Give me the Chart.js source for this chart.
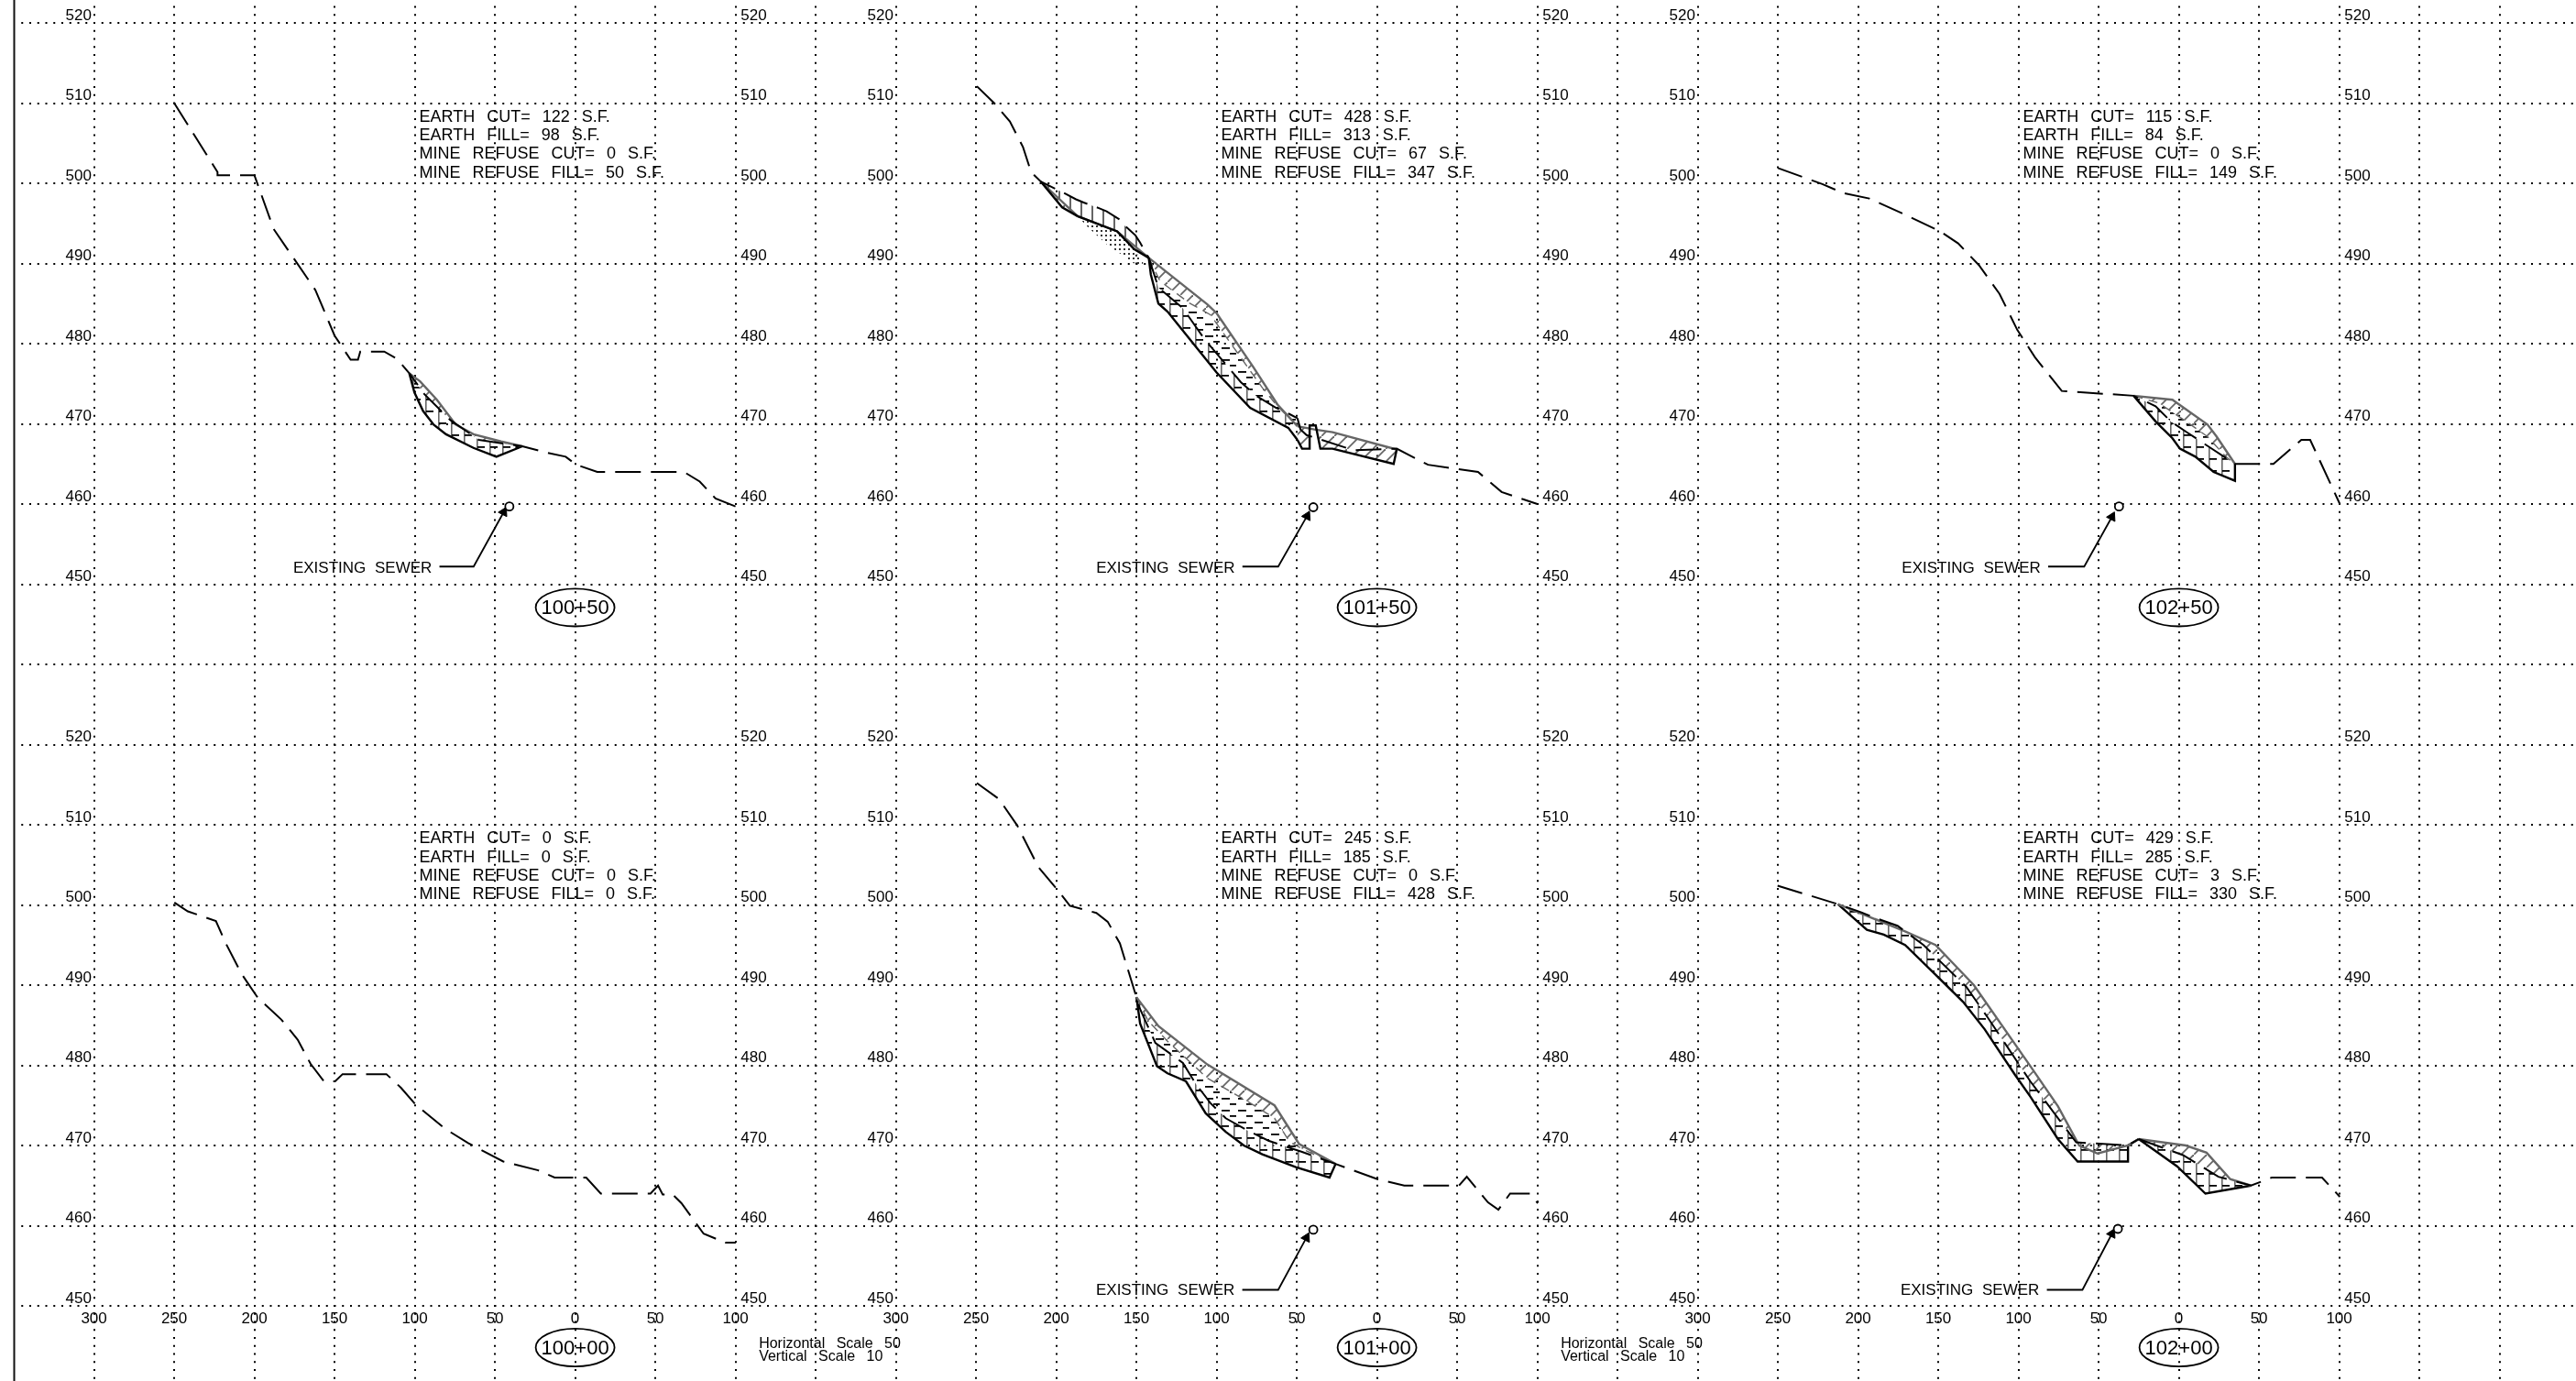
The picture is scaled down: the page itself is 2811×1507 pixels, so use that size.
<!DOCTYPE html>
<html>
<head>
<meta charset="utf-8">
<title>Cross sections</title>
<style>
  html, body { margin: 0; padding: 0; background: #fff; }
  canvas { display: block; }
</style>
<script src="https://cdn.jsdelivr.net/npm/chart.js@4"></script>
</head>
<body>
<canvas id="sections" width="2811" height="1507"></canvas>
<script>
// labels and quantities, order: top row left to right, then bottom row
const stations = ["100+50", "101+50", "102+50", "100+00", "101+00", "102+00"];
const earthCut = [122, 428, 115, 0, 245, 429];
const earthFill = [98, 313, 84, 0, 185, 285];
const refuseCut = [0, 67, 0, 0, 0, 3];
const refuseFill = [50, 347, 149, 0, 428, 330];

// axis ticks
const offsetTicks = [-300, -250, -200, -150, -100, -50, 0, 50, 100];
const elevationTicks = [520, 510, 500, 490, 480, 470, 460, 450];

// 100+50
const ground10050 = [[-250, 510], [-223, 501.4], [-223, 501], [-200, 501], [-188, 494.3], [-162, 486.7], [-158.6, 485.1], [-150, 481], [-140, 478], [-135.4, 478], [-134, 479], [-119, 479], [-111, 478.1], [-103.4, 476.3], [-94, 473.7], [-78, 470.5], [-60, 468], [-32.9, 467.2], [-19.6, 466.5], [-5.9, 465.9], [0.7, 464.9], [13.8, 464], [67.9, 464], [77.7, 462.8], [87.5, 460.7], [100, 459.7]];
const finish10050 = [[-103.4, 476.3], [-96.7, 475.3], [-86.2, 473], [-74.4, 469.9], [-63.4, 468.7], [-46.2, 467.8], [-32.9, 467.2]];
const subgrade10050 = [[-103.4, 476.3], [-100.2, 473.9], [-94.8, 471.6], [-88.2, 469.9], [-80.5, 468.7], [-63.4, 467], [-49.1, 465.9], [-32.9, 467.2]];
const core10050 = [[-103.4, 476.3], [-94, 473.7], [-78, 470.5], [-60, 468], [-32.9, 467.2]];

// 101+50
const groundUpper10150 = [[-249.5, 512.1], [-238.7, 510], [-228.9, 507.7], [-220.7, 504.5], [-215.7, 501.4], [-209.6, 500.2], [-196.3, 498.9], [-187.7, 498], [-182.9, 497.6], [-173.4, 496.9], [-168.6, 496.5], [-160.6, 495.5], [-157.2, 494.7], [-150.6, 493.5], [-147.7, 492.6], [-142.3, 490.7]];
const groundLower10150 = [[-142.3, 490.7], [-136.3, 487], [-121, 484.4], [-107.7, 480.6], [-96.3, 477.9], [-84.9, 475.2], [-75.3, 473.5], [-62.9, 472], [-54.4, 471.2], [-49.6, 470.7]];
const groundRight10150 = [[-49.6, 470.7], [-47.7, 469.3], [-43.9, 468.6], [-14.3, 466.7], [12.3, 466.9], [31.8, 464.9], [63, 464], [77.7, 461.5], [100, 460]];
const finishUpper10150 = [[-209.6, 500.2], [-186.7, 495.9], [-162, 494], [-142.3, 490.7]];
const finishLower10150 = [[-142.3, 490.7], [-105.8, 484.9], [-100, 483.8], [-77.2, 477.1], [-62, 472.4], [-49.6, 469.7]];
const finishEnd10150 = [[-49.6, 469.7], [-39.1, 469.3], [-27.7, 468.95], [12.3, 466.8]];
const inner10150 = [[-142.3, 490.7], [-135.3, 487.8], [-117.2, 485.1], [-103.9, 483.6], [-100, 482.5], [-71.5, 474.5], [-62, 472.2], [-49.6, 469.7]];
const subgradeUpper10150 = [[-209.6, 500.2], [-196.3, 497], [-186.7, 495.9]];
const subgradeMid10150 = [[-186.7, 495.9], [-162, 494], [-151.5, 491.8], [-142.3, 490.7]];
const subgradeLower10150 = [[-142.3, 490.7], [-141, 488.6], [-136.3, 485], [-130.6, 484], [-115.3, 480.2], [-100, 476.4], [-79.1, 472], [-55.3, 469.5], [-49.6, 468]];
const subgradeEnd10150 = [[-49.6, 468], [-46.7, 466.9], [-42, 466.9], [-42, 469.8], [-38.2, 469.8], [-35.3, 466.9], [-27.7, 466.9], [10.4, 465], [12.3, 466.8]];
const refuse10150 = [[-186.7, 495.9], [-162, 494], [-151.5, 491.8], [-145.8, 490.1], [-147.7, 489.5], [-168.6, 492.4], [-180, 494.5]];

// 102+50
const ground10250 = [[-250, 501.9], [-222.3, 499.9], [-209.6, 498.8], [-193, 498.1], [-170.8, 496.1], [-148.7, 494], [-137.6, 492.5], [-124.7, 489.8], [-111.8, 486.2], [-100.7, 481.7], [-89.7, 478.3], [-73, 474.1], [-28.2, 473.5], [-14.5, 472.2], [-5, 470.3], [4.6, 469], [19.8, 467], [35, 465], [59, 465], [76.4, 468], [81.9, 468], [100.4, 460]];
const finish10250 = [[-28.2, 473.5], [-4, 473], [17.9, 469.9], [23.6, 468.4], [35, 465]];
const subgrade10250 = [[-28.2, 473.5], [-14.5, 470.3], [-4, 468.2], [0.7, 466.9], [10.3, 465.9], [21.7, 464], [35, 462.9], [35, 465]];
const core10250 = [[-28.2, 473.5], [-14.5, 472.2], [-5, 470.3], [4.6, 469], [19.8, 467], [35, 465]];
const inner10250 = [[-28.2, 473.5], [-12.6, 472.6], [4.6, 470.3], [17.9, 468.4], [29.3, 465.9], [35, 465]];

// 100+00, no cut or fill
const ground10000 = [[-249.9, 500.3], [-241.5, 499.2], [-224, 498], [-217.8, 495.2], [-208, 491.4], [-197.8, 488.4], [-183.2, 485.7], [-173, 483.2], [-165, 480.2], [-156.6, 478], [-149.7, 478], [-145, 478.9], [-117.7, 478.9], [-108.6, 477.2], [-99.5, 475.1], [-81.2, 472.1], [-66.7, 470.3], [-44.8, 468], [-23, 466.9], [-12.8, 466], [6.9, 466], [16, 464], [47, 464], [51.7, 465], [54.6, 463.9], [60.8, 463.9], [66.3, 462.8], [80.1, 459], [93.6, 457.9], [100.2, 457.9]];

// 101+00
const ground10100 = [[-249.5, 515.2], [-235.7, 513.2], [-224.3, 509.9], [-211.1, 504.7], [-199.7, 502], [-191.5, 499.9], [-175, 499], [-167.9, 497.9], [-160.3, 495.2], [-150, 488.5], [-147.7, 487], [-138.2, 482.8], [-121, 480.3], [-113.4, 477.8], [-103.9, 475.3], [-94.3, 473.4], [-81, 471.9], [-67.7, 470.6], [-46.7, 469.2], [-25.8, 467.7], [0.3, 465.8], [17, 465], [51.1, 465], [56, 466.1], [69.2, 462.9], [75.7, 462], [83, 464], [95.4, 464], [100.3, 462.8]];
const coreGround10100 = [[-150, 488.5], [-147.7, 487], [-138.2, 482.8], [-121, 480.3], [-113.4, 477.8], [-103.9, 475.3], [-94.3, 473.4], [-81, 471.9], [-67.7, 470.6], [-46.7, 469.2], [-25.8, 467.7]];
const finish10100 = [[-150, 488.5], [-136.3, 484.9], [-105.8, 480.1], [-63.9, 475], [-48.6, 470.2], [-25.8, 467.7]];
const subgrade10100 = [[-150, 488.5], [-147.7, 485.2], [-137.2, 479.9], [-130.6, 479], [-119.1, 478], [-106.8, 474], [-94.3, 471.7], [-83, 470], [-71.5, 468.9], [-50.6, 467.3], [-29.6, 466], [-25.8, 467.7]];
const inner10100 = [[-150, 488.5], [-142.9, 485.6], [-130.6, 483], [-105.8, 478.4], [-79.1, 475.3], [-63.9, 473.4], [-54.3, 470.4], [-44.9, 469.4], [-25.8, 467.7]];

// 102+00
const groundLeft10200 = [[-250.2, 502.4], [-212.6, 500.1], [-198.3, 499.1], [-189.7, 498.4], [-175.4, 497.4], [-159.2, 495], [-132.6, 489.8], [-119.3, 486], [-92.6, 478], [-64, 470.4], [-31.7, 470], [-25, 470.8]];
const groundRight10200 = [[-25, 470.8], [2.6, 468.8], [24.7, 466.1], [45, 465], [57.9, 466], [89.3, 466], [100.4, 463.6]];
const finishLeft10200 = [[-212.6, 500.1], [-170.7, 496.7], [-151.7, 495], [-127.8, 490], [-92.6, 479.9], [-75.4, 474.9], [-62.1, 470], [-50.7, 469], [-31.7, 470], [-25, 470.8]];
const finishRight10200 = [[-25, 470.8], [4.4, 470], [17.3, 469.1], [32.1, 465.8], [45, 465]];
const subgradeLeft10200 = [[-212.6, 500.1], [-194.5, 496.9], [-184, 496.3], [-170.7, 495], [-151.7, 491.3], [-134.5, 487.9], [-121.1, 484.5], [-102.1, 478.8], [-92.6, 476.1], [-75.4, 470.8], [-63.1, 468], [-31.7, 468], [-31.7, 470], [-25, 470.8]];
const subgradeRight10200 = [[-25, 470.8], [-1.1, 467.4], [16.6, 464], [45, 465]];

// sewer pipe and the note pointing at it: [bend start, bend, arrow tip]
const sewer10050 = [[-84.6, 452.2], [-63.3, 452.2], [-44.5, 459]];
const sewer10150 = [[-83.9, 452.2], [-61.6, 452.2], [-43.6, 458.5]];
const sewer10250 = [[-81.5, 452.2], [-59, 452.2], [-41.7, 458.4]];
const sewer10100 = [[-84, 452], [-61.6, 452], [-44, 458.5]];
const sewer10200 = [[-82.3, 452], [-60.1, 452], [-41.7, 459]];
const pipe10050 = [[-41, 459.7]];
const pipe10150 = [[-39.7, 459.6]];
const pipe10250 = [[-37.3, 459.7]];
const pipe10100 = [[-39.7, 459.5]];
const pipe10200 = [[-38, 459.6]];

// sheet layout, one grid cell is 50 ft across and 10 ft high
const W = 2811, H = 1507, LEFT = 21;
const PX_X = 1.75, PX_Y = 8.75;
const ZERO_A = 627.6, COLUMN_SHIFT = 500, ROW_SHIFT = 90;
const FONT = '"Liberation Sans", Arial, sans-serif';
const xMin = (LEFT - ZERO_A) / PX_X, xMax = (W - ZERO_A) / PX_X;
const yMax = 520 + 25 / PX_Y, yMin = yMax - H / PX_Y;

const ctx = document.getElementById("sections").getContext("2d");

function tile(w, h, draw) {
  const c = document.createElement("canvas");
  c.width = w;
  c.height = h;
  draw(c.getContext("2d"));
  return ctx.createPattern(c, "repeat");
}

const GRAY = "#666";
const rungs = tile(14, 14, (g) => {
  g.strokeStyle = GRAY;
  g.lineWidth = 1.8;
  g.beginPath();
  g.moveTo(-2, 16);
  g.lineTo(16, -2);
  g.stroke();
});
const dashes = tile(18, 13, (g) => {
  g.fillStyle = "#000";
  g.fillRect(1, 2, 9, 1.8);
  g.fillRect(10, 8, 7, 1.8);
});
const tees = tile(14, 13, (g) => {
  g.fillStyle = GRAY;
  g.fillRect(2, 0, 1.6, 13);
  g.fillStyle = "#000";
  g.fillRect(3, 6, 8, 1.8);
});
const bars = tile(12, 4, (g) => {
  g.fillStyle = GRAY;
  g.fillRect(3, 0, 2, 4);
});
const stipple = tile(5, 5, (g) => {
  g.fillStyle = "#333";
  g.fillRect(1, 1, 2, 2);
});

const band = (a, b) => a.concat(b.slice().reverse());

// first dataset in the list ends up on top
const topLines = [], fills = [];

function addLine(data, xId, yId, color, width, dash) {
  topLines.push({
    data, xAxisID: xId, yAxisID: yId, showLine: true, pointRadius: 0,
    borderColor: color, borderWidth: width, borderDash: dash || [], fill: false,
  });
}
function addFill(data, xId, yId, pattern) {
  fills.push({
    data, xAxisID: xId, yAxisID: yId, showLine: true, pointRadius: 0,
    borderWidth: 0, borderColor: "transparent", backgroundColor: pattern, fill: "shape",
  });
}
const addGround = (data, x, y) => addLine(data, x, y, "#000", 2, [28, 11]);
const addSubgrade = (data, x, y) => addLine(data, x, y, "#000", 2.4);
const addFinish = (data, x, y) => addLine(data, x, y, GRAY, 2.4);
const addInner = (data, x, y) => addLine(data, x, y, GRAY, 1.4, [10, 7]);

function addSewer(note, pipe, x, y) {
  addLine(note, x, y, "#000", 1.8);
  topLines.push({
    data: pipe, xAxisID: x, yAxisID: y, pointRadius: 4.5, pointStyle: "circle",
    pointBorderColor: "#000", pointBorderWidth: 1.8, pointBackgroundColor: "#fff",
  });
  topLines.push({
    data: note.slice(2), xAxisID: x, yAxisID: y, pointRadius: 6, pointStyle: "triangle",
    pointRotation: 27, pointBorderColor: "#000", pointBackgroundColor: "#000",
  });
}

// 100+50
addGround(ground10050, "xA", "yTop");
addFinish(finish10050, "xA", "yTop");
addSubgrade(subgrade10050, "xA", "yTop");
addFill(band(finish10050, core10050), "xA", "yTop", rungs);
addFill(band(core10050, subgrade10050), "xA", "yTop", tees);
addSewer(sewer10050, pipe10050, "xA", "yTop");

// 101+50
addGround(groundUpper10150, "xB", "yTop");
addGround(groundLower10150, "xB", "yTop");
addGround(groundRight10150, "xB", "yTop");
addSubgrade(subgradeUpper10150, "xB", "yTop");
addSubgrade(subgradeMid10150, "xB", "yTop");
addSubgrade(subgradeLower10150, "xB", "yTop");
addSubgrade(subgradeEnd10150, "xB", "yTop");
addFinish(finishUpper10150, "xB", "yTop");
addFinish(finishLower10150, "xB", "yTop");
addFinish(finishEnd10150, "xB", "yTop");
addInner(inner10150, "xB", "yTop");
addFill(refuse10150, "xB", "yTop", stipple);
addFill(band(groundUpper10150.slice(5), finishUpper10150), "xB", "yTop", bars);
addFill(band(finishUpper10150.slice(0, 2), subgradeUpper10150), "xB", "yTop", rungs);
addFill(band(finishLower10150, inner10150), "xB", "yTop", rungs);
addFill(band(inner10150, groundLower10150), "xB", "yTop", dashes);
addFill(band(groundLower10150, subgradeLower10150), "xB", "yTop", tees);
addFill(band(finishEnd10150, subgradeEnd10150), "xB", "yTop", rungs);
addSewer(sewer10150, pipe10150, "xB", "yTop");

// 102+50
addGround(ground10250, "xC", "yTop");
addFinish(finish10250, "xC", "yTop");
addSubgrade(subgrade10250, "xC", "yTop");
addInner(inner10250, "xC", "yTop");
addFill(band(finish10250, inner10250), "xC", "yTop", rungs);
addFill(band(inner10250, core10250), "xC", "yTop", dashes);
addFill(band(core10250, subgrade10250), "xC", "yTop", tees);
addSewer(sewer10250, pipe10250, "xC", "yTop");

// 100+00
addGround(ground10000, "xA", "yBot");

// 101+00
addGround(ground10100, "xB", "yBot");
addFinish(finish10100, "xB", "yBot");
addSubgrade(subgrade10100, "xB", "yBot");
addInner(inner10100, "xB", "yBot");
addFill(band(finish10100, inner10100), "xB", "yBot", rungs);
addFill(band(inner10100, coreGround10100), "xB", "yBot", dashes);
addFill(band(coreGround10100, subgrade10100), "xB", "yBot", tees);
addSewer(sewer10100, pipe10100, "xB", "yBot");

// 102+00
addGround(groundLeft10200, "xC", "yBot");
addGround(groundRight10200, "xC", "yBot");
addFinish(finishLeft10200, "xC", "yBot");
addFinish(finishRight10200, "xC", "yBot");
addSubgrade(subgradeLeft10200, "xC", "yBot");
addSubgrade(subgradeRight10200, "xC", "yBot");
addFill(band(finishLeft10200, groundLeft10200.slice(1)), "xC", "yBot", rungs);
addFill(band(groundLeft10200.slice(1), subgradeLeft10200), "xC", "yBot", tees);
addFill(band(finishRight10200, groundRight10200.slice(0, 4)), "xC", "yBot", rungs);
addFill(band(groundRight10200.slice(0, 4), subgradeRight10200), "xC", "yBot", tees);
addSewer(sewer10200, pipe10200, "xC", "yBot");

const noPadding = (axis) => {
  axis.paddingTop = axis.paddingBottom = axis.paddingLeft = axis.paddingRight = 0;
};

// hidden scales shared by the marks, plus the dotted sheet grid
const scales = {
  xGrid: {
    type: "linear", axis: "x", position: "bottom", min: xMin, max: xMax, afterFit: noPadding,
    ticks: { display: false, stepSize: 50, includeBounds: false, autoSkip: false },
    grid: { color: "#000", lineWidth: 2, drawTicks: false },
    border: { display: false, dash: [2, 6.75], dashOffset: 2.25 },
  },
  yGrid: {
    type: "linear", axis: "y", position: "left", min: yMin, max: yMax, afterFit: noPadding,
    ticks: { display: false, stepSize: 10, includeBounds: false, autoSkip: false },
    grid: { color: "#000", lineWidth: 2, drawTicks: false },
    border: { display: false, dash: [2, 6.75], dashOffset: 6.5 },
  },
  yTop: { type: "linear", display: false, min: yMin, max: yMax },
  yBot: { type: "linear", display: false, min: yMin + ROW_SHIFT, max: yMax + ROW_SHIFT },
};

// station offsets under the bottom row, one axis per column
["A", "B", "C"].forEach((col, i) => {
  scales["x" + col] = {
    type: "linear", axis: "x", position: { yBot: 450 }, afterFit: noPadding,
    min: xMin - i * COLUMN_SHIFT, max: xMax - i * COLUMN_SHIFT,
    afterBuildTicks: (axis) => { axis.ticks = offsetTicks.map((value) => ({ value })); },
    grid: { display: false, drawTicks: false },
    border: { display: false },
    ticks: {
      autoSkip: false, maxRotation: 0, padding: 4, color: "#000",
      font: { family: FONT, size: 17 },
      callback: (v) => Math.abs(v),
    },
  };
});

// elevation labels left and right of every section
[["Top", 0], ["Bot", ROW_SHIFT]].forEach(([row, shift]) => {
  ["A", "B", "C"].forEach((col) => {
    [["L", -301.5], ["R", 119.5]].forEach(([side, at]) => {
      scales["y" + row + col + side] = {
        type: "linear", axis: "y", position: { ["x" + col]: at }, afterFit: noPadding,
        min: yMin + shift, max: yMax + shift,
        afterBuildTicks: (axis) => { axis.ticks = elevationTicks.map((value) => ({ value })); },
        grid: { display: false, drawTicks: false },
        border: { display: false },
        ticks: {
          autoSkip: false, padding: 0, labelOffset: -8, color: "#000",
          font: { family: FONT, size: 17 },
        },
      };
    });
  });
});

const sheetNotes = {
  id: "sheetNotes",
  beforeDraw(chart) {
    const c = chart.ctx;
    c.save();
    c.fillStyle = "#fff";
    c.fillRect(0, 0, W, H);
    c.fillStyle = "#111";
    c.fillRect(14.5, 0, 2, H);
    c.restore();
  },
  afterDatasetsDraw(chart) {
    const s = chart.scales;
    const c = chart.ctx;
    const columns = ["xA", "xB", "xC", "xA", "xB", "xC"];
    const rows = ["yTop", "yTop", "yTop", "yBot", "yBot", "yBot"];
    const notes = [sewer10050, sewer10150, sewer10250, null, sewer10100, sewer10200];
    c.save();
    c.fillStyle = "#000";
    c.strokeStyle = "#000";
    stations.forEach((name, i) => {
      const xs = s[columns[i]], ys = s[rows[i]];
      // quantity table
      const lines = [
        "EARTH CUT= " + earthCut[i] + " S.F.",
        "EARTH FILL= " + earthFill[i] + " S.F.",
        "MINE REFUSE CUT= " + refuseCut[i] + " S.F.",
        "MINE REFUSE FILL= " + refuseFill[i] + " S.F.",
      ];
      c.font = "18px " + FONT;
      c.wordSpacing = "8px";
      c.textAlign = "left";
      c.textBaseline = "alphabetic";
      lines.forEach((t, k) => {
        c.fillText(t, xs.getPixelForValue(-97.2), ys.getPixelForValue(500.7 + (3 - k) * 2.33));
      });
      // sewer note
      if (notes[i]) {
        c.font = "17px " + FONT;
        c.textAlign = "right";
        c.wordSpacing = "5px";
        c.fillText("EXISTING SEWER", xs.getPixelForValue(notes[i][0][0] - 4.7), ys.getPixelForValue(451.4));
      }
      // station bubble
      const cy = ys.getPixelForValue(rows[i] === "yTop" ? 447.1 : 444.8);
      const cx = xs.getPixelForValue(0);
      c.lineWidth = 1.8;
      c.beginPath();
      c.ellipse(cx, cy, 43, 20.6, 0, 0, Math.PI * 2);
      c.stroke();
      c.font = "22px " + FONT;
      c.wordSpacing = "0px";
      c.textAlign = "center";
      c.textBaseline = "middle";
      c.fillText(name, cx, cy + 1);
    });
    // drawing scales under the first two columns
    c.font = "16px " + FONT;
    c.wordSpacing = "8px";
    c.textAlign = "left";
    c.textBaseline = "alphabetic";
    ["xA", "xB"].forEach((id) => {
      c.fillText("Horizontal Scale 50", s[id].getPixelForValue(114.6), s.yBot.getPixelForValue(444.8));
      c.fillText("Vertical Scale 10", s[id].getPixelForValue(114.6), s.yBot.getPixelForValue(443.2));
    });
    c.restore();
  },
};

new Chart(ctx, {
  type: "scatter",
  data: { datasets: topLines.concat(fills) },
  plugins: [sheetNotes],
  options: {
    responsive: false,
    animation: false,
    devicePixelRatio: 1,
    events: [],
    layout: { autoPadding: false, padding: { left: LEFT, right: 0, top: 0, bottom: 0 } },
    plugins: { legend: { display: false }, tooltip: { enabled: false } },
    elements: { line: { tension: 0 } },
    scales,
  },
});
</script>
</body>
</html>
